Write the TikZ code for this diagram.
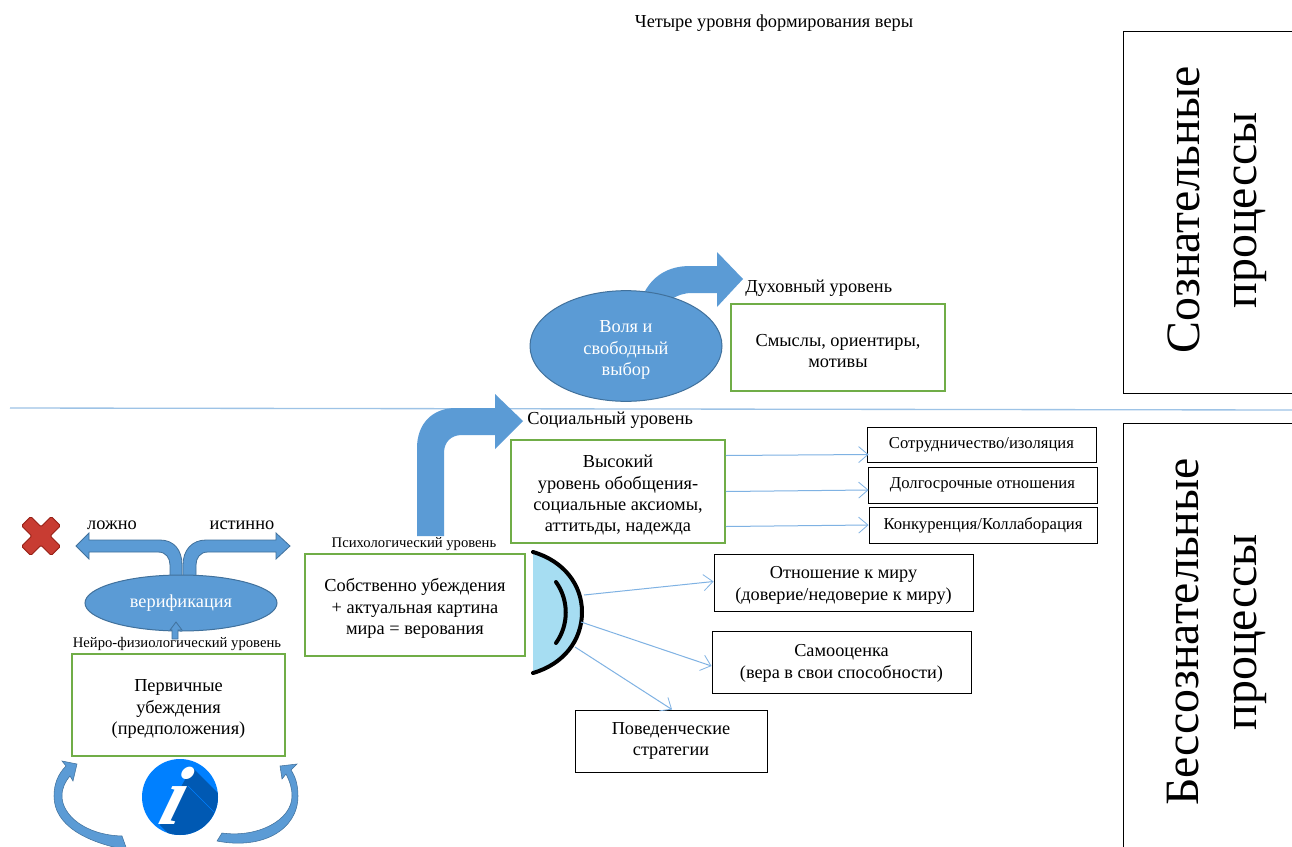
\documentclass[tikz,border=0pt]{standalone}
\usepackage{fontspec}
\setmainfont{Liberation Serif}
\usetikzlibrary{calc,arrows.meta,shapes.geometric}
\definecolor{blu}{HTML}{5B9BD5}
\definecolor{blud}{HTML}{41719C}
\definecolor{grn}{HTML}{70AD47}
\definecolor{lin}{HTML}{9DC3E6}
\definecolor{cline}{HTML}{7FB2E3}
\definecolor{lens}{HTML}{A6DDF2}
\definecolor{xred}{HTML}{C83C32}
\definecolor{xdark}{HTML}{961E14}
\definecolor{ibl}{HTML}{0080FF}
\definecolor{ibd}{HTML}{0059B3}
\tikzset{
 x=0.75pt,y=-0.75pt,
 shapeb/.style={fill=blu,draw=blud,line width=0.75pt},
 flow/.style={fill=blu,draw=none},
 conn/.style={draw=cline,line width=0.75pt,-{Straight Barb[length=7pt,width=12pt,line width=0.6pt]}},
 gbox/.style={draw=grn,line width=1.3pt,fill=white,align=center,inner sep=0pt,font=\fontsize{13.75}{16}\selectfont},
 kbox/.style={draw=black,line width=0.7pt,fill=white,align=center,inner sep=0pt,font=\fontsize{13.7}{16}\selectfont},
 sbox/.style={kbox,font=\fontsize{12.5}{15}\selectfont},
 lab/.style={inner sep=0pt,font=\fontsize{13.75}{16}\selectfont},
 tiny/.style={inner sep=0pt,font=\fontsize{11}{13}\selectfont},
 sidebox/.style={draw=black,line width=0.7pt,fill=white},
 sidetxt/.style={rotate=90,align=center,inner sep=0pt,font=\fontsize{35.9}{43}\selectfont},
}
\newcommand{\bx}[7]{%
 \pgfmathsetmacro{\bw}{(#4-#2)*0.75}\pgfmathsetmacro{\bh}{(#5-#3)*0.75}%
 \node[#6,minimum width=\bw pt,minimum height=\bh pt] (#1) at ({(#2+#4)/2},{(#3+#5)/2}) {#7};}
\newcommand{\dn}[1]{\rule{0pt}{#1}}
\begin{document}
\begin{tikzpicture}
\clip (0,0) rectangle (1292,846);
\fill[white] (0,0) rectangle (1292,846);
% title
\node[lab] (title) at (774,23) {Четыре уровня формирования веры};
% dividing line
\coordinate (la) at (10,408); \coordinate (lb) at (1292,410);
\draw[lin,line width=1pt] (la) -- (lb);
% side boxes
\draw[sidebox] (1123,31) rectangle (1300,393);
\draw[sidebox] (1123,423) rectangle (1300,860);
\node[sidetxt] (s1) at (1217,210) {Сознательные\\процессы};
\node[sidetxt] (s2) at (1217,632) {Бессознательные\\процессы};
% spiritual arrow
\fill[flow] (643,295) .. controls (652,276) and (668,266) .. (690,266) -- (717,266) -- (717,252) -- (743,279) -- (717,307) -- (717,293) -- (692,293) .. controls (684,293) and (678,295) .. (670,300) -- cycle;
\node[shape=ellipse,shapeb,minimum width=144pt,minimum height=83pt,inner sep=0pt,align=center,text=white,font=\fontsize{13.75}{16}\selectfont] (will) at (626,346) {\dn{15pt}Воля и\\свободный\\выбор};
\node[lab,anchor=west] (dl) at (745,288) {Духовный уровень};
\bx{sm}{731}{304}{945}{391}{gbox}{\dn{14pt}Смыслы, ориентиры,\\мотивы}
% social arrow
\fill[flow] (417,536) -- (417,448) .. controls (417,424) and (432,408) .. (456,408) -- (495,408) -- (495,394) -- (523,421) -- (495,449) -- (495,435) -- (462,435) .. controls (451,435) and (444,442) .. (444,453) -- (444,536) -- cycle;
\node[lab,anchor=west] (sl) at (527,420) {Социальный уровень};
\bx{hi}{511}{440}{725}{543}{gbox}{\dn{15pt}Высокий\\уровень обобщения-\\социальные аксиомы,\\аттитьды, надежда}
\bx{c1}{867}{427}{1096}{462}{sbox}{Сотрудничество/изоляция}
\bx{c2}{868}{467}{1097}{503}{sbox}{Долгосрочные отношения}
\bx{c3}{869}{507}{1097}{543}{sbox}{Конкуренция/Коллаборация}
\draw[conn] ($(hi.east)+(0,-36)$) -- ($(c1.west)+(2,10)$);
\draw[conn] (hi.east) -- ($(c2.west)+(1,5)$);
\draw[conn] ($(hi.east)+(0,35)$) -- ($(c3.west)+(0,0)$);
% psychological
\node[tiny] (pl) at (414,544) {Психологический уровень};
\bx{own}{305}{554}{525}{656}{gbox}{\dn{15pt}Собственно убеждения\\+ актуальная картина\\мира = верования}
% lens
\coordinate (lt) at (533,552); \coordinate (lbm) at (533,673); \coordinate (lr) at (582,612);
\fill[lens] (lt) .. controls (564,561) and (582,585) .. (lr) .. controls (582,640) and (564,664) .. (lbm) -- cycle;
\draw[black,line width=3pt,line cap=round] (lt) .. controls (564,561) and (582,585) .. (lr) .. controls (582,640) and (564,664) .. (lbm);
\draw[black,line width=3pt,line cap=round] (556,582) .. controls (569,600) and (569,625) .. (556,643);
\bx{r1}{714}{554}{973}{611}{kbox}{\dn{13.5pt}Отношение к миру\\(доверие/недоверие к миру)}
\bx{r2}{712}{631}{971}{693}{kbox}{\dn{11pt}Самооценка\\(вера в свои способности)}
\bx{r3}{575}{710}{767}{772}{kbox}{Поведенческие\\стратегии}
\coordinate (e1) at (584,595); \coordinate (e2) at (581,622); \coordinate (e3) at (575,647);
\draw[conn] (e1) -- ($(r1.west)+(0,-1)$);
\draw[conn] (e2) -- ($(r2.west)+(0,4)$);
\draw[conn] (e3) -- ($(r3.north)+(1,0)$);
% verification
\fill[flow,draw=blud,line width=0.6pt] (170,581) -- (170,565) .. controls (170,558) and (166,552) .. (158,552) -- (89,552) -- (89,559) -- (76,546) -- (89,533) -- (89,540) -- (160,540) .. controls (174,540) and (182,550) .. (182,565) -- (182,581) -- cycle;
\fill[flow,draw=blud,line width=0.6pt] (196,581) -- (196,565) .. controls (196,558) and (200,552) .. (208,552) -- (276,552) -- (276,559) -- (290,546) -- (276,533) -- (276,540) -- (206,540) .. controls (192,540) and (183,550) .. (183,565) -- (183,581) -- cycle;
\node[shape=ellipse,shapeb,minimum width=144pt,minimum height=42pt,inner sep=0pt,text=white,font=\fontsize{13.75}{16}\selectfont] (ver) at (181,603) {верификация};
\fill[flow,draw=blud,line width=0.6pt] (172,639) -- (172,630) -- (170,630) -- (176,622) -- (182,630) -- (178,630) -- (178,639) -- cycle;
\node[tiny] (nl) at (177,644) {Нейро-физиологический уровень};
\bx{pr}{72}{654}{285}{756}{gbox}{\dn{15pt}Первичные\\убеждения\\(предположения)}
\node[lab] (lo) at (112,525) {ложно};
\node[lab] (is) at (242,525) {истинно};
% red cross
\begin{scope}[shift={(41,536)},rotate=45]
\fill[fill=xred,draw=xdark,line width=0.7pt,rounded corners=1pt] (-21,-6.5) -- (-6.5,-6.5) -- (-6.5,-21) -- (6.5,-21) -- (6.5,-6.5) -- (21,-6.5) -- (21,6.5) -- (6.5,6.5) -- (6.5,21) -- (-6.5,21) -- (-6.5,6.5) -- (-21,6.5) -- cycle;
\end{scope}
% info icon
\begin{scope}
\clip (180,797) circle[radius=28.5pt];
\fill[ibl] (140,755) rectangle (220,840);
\fill[ibd] (192,767) -- (225,800) -- (225,840) -- (175,840) -- (160,825) -- cycle;
\draw[ibl,line width=0.5pt] (188,786) -- (215,813);
\end{scope}
\coordinate (ic) at (177,796);
\node[inner sep=0pt,text=white,xslant=0.3,transform shape,font=\fontsize{62}{62}\selectfont\bfseries\itshape] (inf) at (ic) {i};
% curved arrows
\fill[blu,draw=blud,line width=0.4pt] (127,850) .. controls (85,842) and (54,825) .. (54,796) .. controls (54,784) and (58,774) .. (66,766) -- (62,761) -- (77,764) -- (73,781) -- (70,776) .. controls (65,782) and (62,788) .. (62,796) .. controls (62,815) and (85,835) .. (122,836) -- cycle;
\fill[blu,draw=blud,line width=0.4pt] (217,841) .. controls (262,850) and (298,830) .. (298,796) .. controls (298,784) and (295,776) .. (291,770) -- (297,764) -- (280,766) -- (282,779) -- (286,774) .. controls (290,782) and (292,788) .. (292,796) .. controls (292,820) and (258,838) .. (222,833) -- cycle;
\end{tikzpicture}
\end{document}
